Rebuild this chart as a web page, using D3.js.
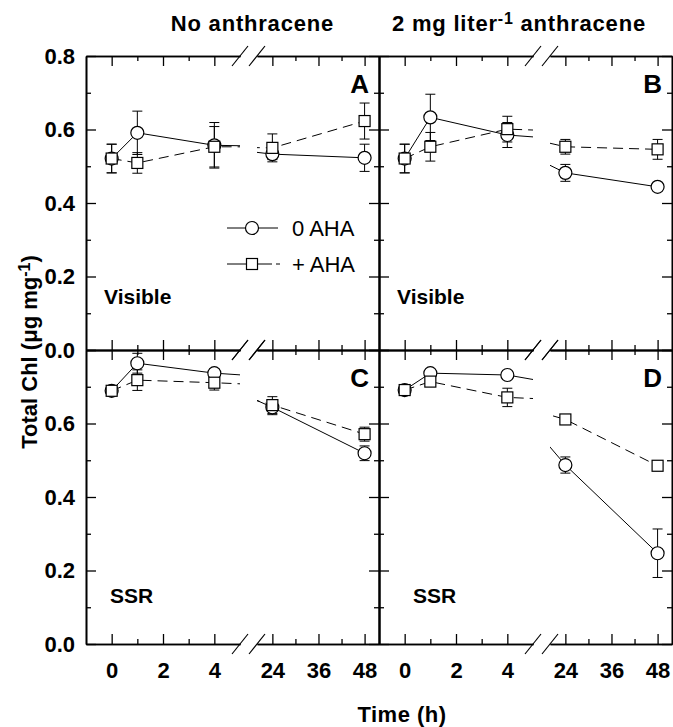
<!DOCTYPE html>
<html>
<head>
<meta charset="utf-8">
<script src="https://cdn.jsdelivr.net/npm/d3@7"></script>
<style>
  body { margin: 0; background: #fff; }
  svg { display: block; font-family: "Liberation Sans", Arial, sans-serif; }
</style>
</head>
<body>
<div id="chart"></div>
<script>
// sampling times (h)
const hours = [0, 1, 4, 24, 48]

// circles = 0 AHA, squares = + AHA
const aNoAha = [0.521, 0.591, 0.557, 0.533, 0.523]
const aNoAhaErr = [0.039, 0.059, 0.062, 0.015, 0.037]
const aAha = [0.521, 0.509, 0.553, 0.550, 0.623]
const aAhaErr = [0.039, 0.028, 0.055, 0.038, 0.049]

const bNoAha = [0.521, 0.633, 0.585, 0.482, 0.444]
const bNoAhaErr = [0.039, 0.063, 0.034, 0.023, 0.008]
const bAha = [0.521, 0.553, 0.601, 0.553, 0.546]
const bAhaErr = [0.039, 0.039, 0.035, 0.020, 0.027]

const cNoAha = [0.689, 0.764, 0.737, 0.644, 0.519]
const cNoAhaErr = [0.010, 0.027, 0.012, 0.020, 0.020]
const cAha = [0.689, 0.718, 0.711, 0.650, 0.571]
const cAhaErr = [0.010, 0.028, 0.020, 0.023, 0.019]

const dNoAha = [0.691, 0.737, 0.732, 0.487, 0.247]
const dNoAhaErr = [0.010, 0.010, 0.010, 0.022, 0.066]
const dAha = [0.691, 0.714, 0.671, 0.611, 0.485]
const dAhaErr = [0.010, 0.010, 0.025, 0.012, 0.010]

// tick labels
const xMajor1 = [0, 2, 4], xMinor1 = [1, 3]
const xMajor2 = [24, 36, 48], xMinor2 = [30, 42]
const yMajor = [0, 0.2, 0.4, 0.6, 0.8], yMinor = [0.1, 0.3, 0.5, 0.7]

const panels = [
  { letter: "A", row: 0, col: 0, light: "Visible", noAha: aNoAha, noAhaErr: aNoAhaErr, aha: aAha, ahaErr: aAhaErr },
  { letter: "B", row: 0, col: 1, light: "Visible", noAha: bNoAha, noAhaErr: bNoAhaErr, aha: bAha, ahaErr: bAhaErr },
  { letter: "C", row: 1, col: 0, light: "SSR", noAha: cNoAha, noAhaErr: cNoAhaErr, aha: cAha, ahaErr: cAhaErr },
  { letter: "D", row: 1, col: 1, light: "SSR", noAha: dNoAha, noAhaErr: dNoAhaErr, aha: dAha, ahaErr: dAhaErr }
]

const W = 673, H = 727
const mLeft = 86, mTop = 56, pw = 293, ph = 294
const font = '"Liberation Sans", Arial, sans-serif'

const svg = d3.select("#chart").append("svg").attr("width", W).attr("height", H)

// broken x axis: two linear pieces
const x1 = d3.scaleLinear().domain([-1, 5]).range([0, 154])
const x2 = d3.scaleLinear().domain([20, 51.75]).range([171, pw])
const y = d3.scaleLinear().domain([0, 0.8]).range([ph, 0])
const segs = [
  { x: x1, major: xMajor1, minor: xMinor1, id: 1 },
  { x: x2, major: xMajor2, minor: xMinor2, id: 2 }
]

const defs = svg.append("defs")
segs.forEach(s => {
  const r = s.x.range()
  defs.append("clipPath").attr("id", "clip" + s.id)
    .append("rect").attr("x", r[0]).attr("y", -2).attr("width", r[1] - r[0]).attr("height", ph + 4)
})

const styleAxis = (g, labels) => {
  g.attr("font-family", font).attr("font-size", 22).attr("font-weight", "bold")
  g.selectAll("path.domain").attr("stroke", "#000").attr("stroke-width", 1.6)
  g.selectAll(".tick line").attr("stroke", "#000").attr("stroke-width", 1.3)
  g.selectAll("text").attr("fill", "#000")
  if (!labels) g.selectAll("text").remove()
}

panels.forEach(p => {
  const g = svg.append("g").attr("transform", `translate(${mLeft + p.col * pw},${mTop + p.row * ph})`)
  const bottomLabels = p.row === 1

  // x axes top and bottom, for each segment
  segs.forEach(s => {
    g.append("g").attr("transform", `translate(0,${ph})`)
      .call(d3.axisBottom(s.x).tickValues(s.major).tickSizeInner(-10).tickSizeOuter(0).tickPadding(18).tickFormat(d3.format("d")))
      .call(a => styleAxis(a, bottomLabels))
    g.append("g").attr("transform", `translate(0,${ph})`)
      .call(d3.axisBottom(s.x).tickValues(s.minor).tickSizeInner(-5).tickSizeOuter(0))
      .call(a => styleAxis(a, false))
    g.append("g")
      .call(d3.axisTop(s.x).tickValues(s.major).tickSizeInner(-10).tickSizeOuter(0))
      .call(a => styleAxis(a, false))
    g.append("g")
      .call(d3.axisTop(s.x).tickValues(s.minor).tickSizeInner(-5).tickSizeOuter(0))
      .call(a => styleAxis(a, false))
  })

  // y axes left and right
  const yFmt = d => (p.row === 1 && d === 0.8) ? "" : d3.format(".1f")(d)
  g.append("g")
    .call(d3.axisLeft(y).tickValues(yMajor).tickSizeInner(-10).tickSizeOuter(0).tickPadding(11).tickFormat(yFmt))
    .call(a => styleAxis(a, p.col === 0))
  g.append("g")
    .call(d3.axisLeft(y).tickValues(yMinor).tickSizeInner(-5).tickSizeOuter(0))
    .call(a => styleAxis(a, false))
  g.append("g").attr("transform", `translate(${pw},0)`)
    .call(d3.axisRight(y).tickValues(yMajor).tickSizeInner(-10).tickSizeOuter(0))
    .call(a => styleAxis(a, false))
  g.append("g").attr("transform", `translate(${pw},0)`)
    .call(d3.axisRight(y).tickValues(yMinor).tickSizeInner(-5).tickSizeOuter(0))
    .call(a => styleAxis(a, false))

  // break marks
  ;[0, ph].forEach(yy => {
    [x1.range()[1], x2.range()[0]].forEach(cx => {
      g.append("line").attr("x1", cx - 8).attr("y1", yy + 10).attr("x2", cx + 8).attr("y2", yy - 10)
        .attr("stroke", "#000").attr("stroke-width", 1.2)
    })
  })

  const series = [
    { vals: p.noAha, errs: p.noAhaErr, dash: null },
    { vals: p.aha, errs: p.ahaErr, dash: "10,6" }
  ]

  // lines, each segment clipped to its own range
  segs.forEach(s => {
    const cg = g.append("g").attr("clip-path", `url(#clip${s.id})`)
    series.forEach(se => {
      const line = d3.line().x((d, i) => s.x(hours[i])).y(d => y(d))
      cg.append("path").datum(se.vals).attr("d", line)
        .attr("fill", "none").attr("stroke", "#000").attr("stroke-width", 1)
        .attr("stroke-dasharray", se.dash)
    })
  })

  const px = h => h <= 5 ? x1(h) : x2(h)

  // error bars
  series.forEach(se => {
    se.vals.forEach((v, i) => {
      const xx = px(hours[i])
      const y0 = y(v - se.errs[i]), y1 = y(v + se.errs[i])
      g.append("line").attr("x1", xx).attr("x2", xx).attr("y1", y0).attr("y2", y1).attr("stroke", "#000").attr("stroke-width", 1)
      ;[y0, y1].forEach(yc => g.append("line").attr("x1", xx - 5).attr("x2", xx + 5).attr("y1", yc).attr("y2", yc)
        .attr("stroke", "#000").attr("stroke-width", 1))
    })
  })

  // markers
  g.selectAll("circle.m").data(p.noAha).enter().append("circle")
    .attr("cx", (d, i) => px(hours[i])).attr("cy", d => y(d)).attr("r", 6.5)
    .attr("fill", "#fff").attr("stroke", "#000").attr("stroke-width", 1.2)
  g.selectAll("rect.m").data(p.aha).enter().append("rect")
    .attr("x", (d, i) => px(hours[i]) - 5.5).attr("y", d => y(d) - 5.5).attr("width", 11).attr("height", 11)
    .attr("fill", "#fff").attr("stroke", "#000").attr("stroke-width", 1.2)

  // panel letter and light condition
  g.append("text").attr("x", pw - 10).attr("y", 37).attr("text-anchor", "end")
    .attr("font-size", 26).attr("font-weight", "bold").text(p.letter)
  g.append("text").attr("x", p.row === 0 ? 18 : (p.col === 0 ? 24 : 34)).attr("y", ph - (p.row === 0 ? 46 : 41))
    .attr("font-size", 21).attr("font-weight", "bold").text(p.light)
})

// legend in panel A
const leg = svg.append("g")
leg.append("line").attr("x1", 227).attr("x2", 278).attr("y1", 228).attr("y2", 228).attr("stroke", "#000").attr("stroke-width", 1)
leg.append("circle").attr("cx", 252).attr("cy", 228).attr("r", 6.5).attr("fill", "#fff").attr("stroke", "#000").attr("stroke-width", 1.2)
leg.append("text").attr("x", 292).attr("y", 236).attr("font-size", 22).text("0 AHA")
leg.append("line").attr("x1", 227).attr("x2", 280).attr("y1", 264).attr("y2", 264).attr("stroke", "#000").attr("stroke-width", 1)
  .attr("stroke-dasharray", "45,4")
leg.append("rect").attr("x", 246.5).attr("y", 258.5).attr("width", 11).attr("height", 11).attr("fill", "#fff").attr("stroke", "#000").attr("stroke-width", 1.2)
leg.append("text").attr("x", 292).attr("y", 272).attr("font-size", 22).text("+ AHA")

// column titles
svg.append("text").attr("x", 334).attr("y", 31).attr("text-anchor", "end").attr("letter-spacing", 0.8)
  .attr("font-size", 22).attr("font-weight", "bold").text("No anthracene")
const t2 = svg.append("text").attr("x", 392).attr("y", 31).attr("font-size", 22).attr("font-weight", "bold")
  .attr("letter-spacing", 0.8)
t2.append("tspan").text("2 mg liter")
t2.append("tspan").attr("dy", -7).attr("font-size", 16).text("-1")
t2.append("tspan").attr("dy", 7).text(" anthracene")

// axis titles
const yt = svg.append("text").attr("transform", "translate(37,352) rotate(-90)").attr("text-anchor", "middle")
  .attr("font-size", 22).attr("font-weight", "bold")
yt.append("tspan").text("Total Chl  (μg mg")
yt.append("tspan").attr("dy", -7).attr("font-size", 16).text("-1")
yt.append("tspan").attr("dy", 7).text(")")
svg.append("text").attr("x", 402).attr("y", 722).attr("text-anchor", "middle").attr("letter-spacing", 0.5)
  .attr("font-size", 22).attr("font-weight", "bold").text("Time (h)")
</script>
</body>
</html>
